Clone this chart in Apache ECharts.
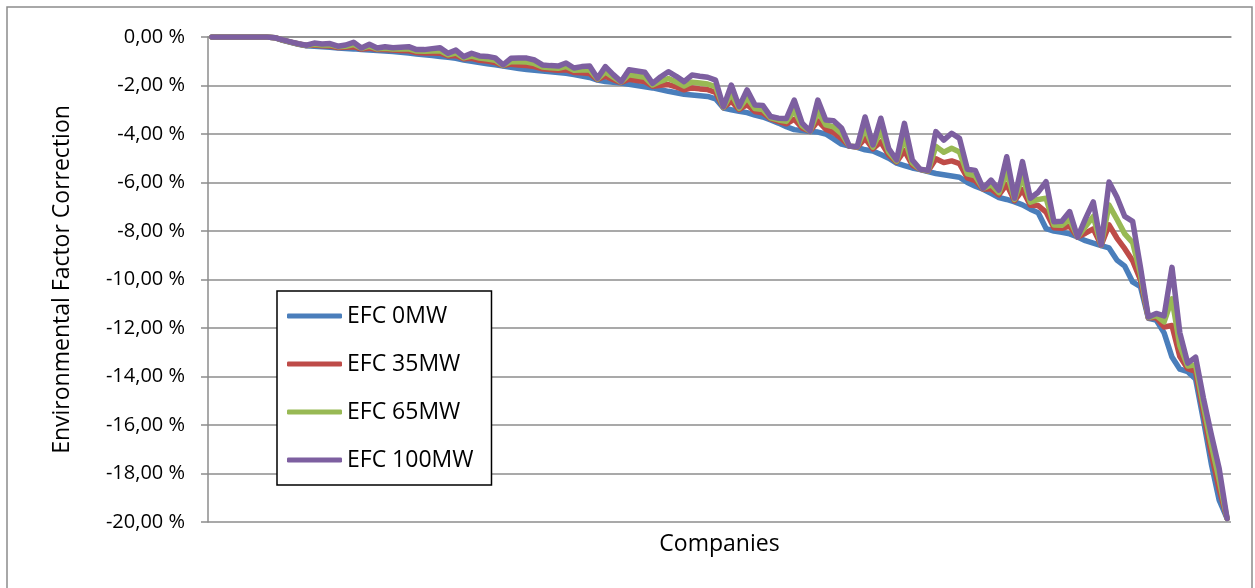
<!DOCTYPE html>
<html>
<head>
<meta charset="utf-8">
<script src="https://cdn.jsdelivr.net/npm/echarts@6/dist/echarts.min.js"></script>
<style>
  html, body { margin: 0; padding: 0; background: #fff; }
  #chart { width: 1255px; height: 588px; }
</style>
</head>
<body>
<div id="chart"></div>
<script>
// Environmental factor correction (%) per company, sorted by the 0 MW case
const seriesNames = ['EFC 0MW', 'EFC 35MW', 'EFC 65MW', 'EFC 100MW'];

const efc0 = [
  0, 0, 0, 0, 0, 0, 0, 0, -0.03, -0.14,
  -0.22, -0.3, -0.36, -0.38, -0.4, -0.42, -0.45, -0.47, -0.49, -0.52,
  -0.54, -0.56, -0.58, -0.6, -0.63, -0.66, -0.7, -0.73, -0.76, -0.8,
  -0.84, -0.88, -0.95, -1.0, -1.05, -1.1, -1.15, -1.2, -1.25, -1.3,
  -1.34, -1.37, -1.4, -1.43, -1.46, -1.5, -1.55, -1.61, -1.67, -1.78,
  -1.84, -1.87, -1.9, -1.95, -2.0, -2.05, -2.1, -2.17, -2.24, -2.3,
  -2.36, -2.39, -2.42, -2.45, -2.55, -2.93, -3.0, -3.06, -3.12, -3.22,
  -3.3, -3.42, -3.55, -3.7, -3.82, -3.86, -3.9, -3.92, -4.0, -4.2,
  -4.42, -4.5, -4.55, -4.65, -4.7, -4.85, -5.0, -5.2, -5.3, -5.4,
  -5.47, -5.55, -5.63, -5.68, -5.73, -5.78, -6.0, -6.15, -6.28, -6.45,
  -6.62, -6.7, -6.8, -6.92, -7.1, -7.25, -7.9, -8.0, -8.05, -8.12,
  -8.25, -8.4, -8.5, -8.6, -8.7, -9.2, -9.45, -10.1, -10.3, -11.6,
  -11.67, -12.2, -13.2, -13.7, -13.8, -14.1, -15.8, -17.6, -19.1, -19.85
];

const efc35 = [
  0, 0, 0, 0, 0, 0, 0, 0, -0.03, -0.13,
  -0.21, -0.29, -0.35, -0.33, -0.36, -0.37, -0.43, -0.42, -0.4, -0.5,
  -0.46, -0.52, -0.52, -0.54, -0.56, -0.57, -0.64, -0.66, -0.66, -0.67,
  -0.78, -0.76, -0.9, -0.88, -0.96, -0.99, -1.05, -1.18, -1.12, -1.15,
  -1.18, -1.22, -1.31, -1.34, -1.37, -1.35, -1.46, -1.47, -1.51, -1.75,
  -1.62, -1.76, -1.88, -1.74, -1.79, -1.84, -2.03, -1.99, -1.96, -2.06,
  -2.18, -2.1, -2.14, -2.17, -2.28, -2.91, -2.64, -2.99, -2.79, -3.07,
  -3.13, -3.37, -3.48, -3.58, -3.39, -3.75, -3.89, -3.46, -3.8, -3.94,
  -4.19, -4.5, -4.54, -4.18, -4.61, -4.33, -4.86, -5.15, -4.69, -5.28,
  -5.46, -5.53, -5.02, -5.18, -5.11, -5.22, -5.81, -5.92, -6.27, -6.26,
  -6.51, -6.08, -6.75, -6.3, -6.94, -6.95, -7.22, -7.87, -7.89, -7.8,
  -8.25, -8.09, -7.91, -8.59, -7.75, -8.29, -8.73, -9.23, -10.02, -11.58,
  -11.58, -11.96, -11.9, -13.18, -13.68, -13.79, -15.49, -17.18, -18.65, -19.85
];

const efc65 = [
  0, 0, 0, 0, 0, 0, 0, 0, -0.03, -0.13,
  -0.21, -0.29, -0.35, -0.3, -0.33, -0.32, -0.4, -0.38, -0.31, -0.47,
  -0.38, -0.49, -0.46, -0.5, -0.49, -0.49, -0.58, -0.59, -0.58, -0.57,
  -0.73, -0.66, -0.86, -0.79, -0.87, -0.91, -0.96, -1.17, -1.01, -1.02,
  -1.03, -1.1, -1.24, -1.27, -1.29, -1.22, -1.37, -1.36, -1.36, -1.73,
  -1.44, -1.66, -1.86, -1.56, -1.61, -1.66, -1.98, -1.83, -1.71, -1.86,
  -2.02, -1.86, -1.9, -1.94, -2.05, -2.9, -2.34, -2.94, -2.51, -2.95,
  -2.99, -3.33, -3.42, -3.48, -3.03, -3.66, -3.89, -3.06, -3.62, -3.71,
  -3.98, -4.5, -4.53, -3.77, -4.54, -3.88, -4.74, -5.12, -4.17, -5.19,
  -5.46, -5.52, -4.51, -4.75, -4.59, -4.74, -5.64, -5.73, -6.25, -6.09,
  -6.42, -5.56, -6.7, -5.76, -6.81, -6.7, -6.65, -7.75, -7.76, -7.52,
  -8.25, -7.82, -7.4, -8.59, -6.93, -7.51, -8.12, -8.48, -9.78, -11.57,
  -11.49, -11.75, -10.8, -12.73, -13.57, -13.52, -15.22, -16.82, -18.26, -19.85
];

const efc100 = [
  0, 0, 0, 0, 0, 0, 0, 0, -0.03, -0.12,
  -0.2, -0.28, -0.34, -0.25, -0.29, -0.27, -0.38, -0.33, -0.22, -0.45,
  -0.3, -0.45, -0.4, -0.44, -0.42, -0.4, -0.52, -0.52, -0.48, -0.44,
  -0.67, -0.54, -0.81, -0.67, -0.78, -0.8, -0.86, -1.15, -0.88, -0.87,
  -0.87, -0.95, -1.15, -1.18, -1.2, -1.07, -1.28, -1.22, -1.2, -1.7,
  -1.22, -1.55, -1.84, -1.35, -1.4, -1.45, -1.91, -1.65, -1.43, -1.62,
  -1.84, -1.57, -1.62, -1.66, -1.78, -2.88, -1.98, -2.87, -2.18, -2.8,
  -2.82, -3.28, -3.35, -3.36, -2.6, -3.55, -3.88, -2.6, -3.42, -3.45,
  -3.75, -4.5, -4.52, -3.3, -4.45, -3.35, -4.6, -5.07, -3.56, -5.07,
  -5.45, -5.5, -3.9, -4.25, -3.97, -4.18, -5.45, -5.5, -6.24, -5.9,
  -6.31, -4.94, -6.65, -5.14, -6.65, -6.4, -5.97, -7.62, -7.6, -7.2,
  -8.25, -7.5, -6.8, -8.58, -5.98, -6.6, -7.4, -7.6, -9.5, -11.55,
  -11.4, -11.5, -9.5, -12.2, -13.45, -13.2, -14.9, -16.4, -17.8, -19.85
];

// one category per company (labels are not shown on the axis)
const companies = efc0.map((_, i) => 'C' + (i + 1));

const yTicks = { min: -20, max: 0, interval: 2 };
const colors = ['#4A7EBB', '#BE4B48', '#98B954', '#7D5FA0'];
const FONT = 'Open Sans';

const chart = echarts.init(document.getElementById('chart'), null, { renderer: 'canvas' });

function fmtPercent(v) {
  return v.toFixed(2).replace('.', ',') + ' %';
}

const seriesData = [efc0, efc35, efc65, efc100];

chart.setOption({
  animation: false,
  backgroundColor: '#fff',
  color: colors,
  textStyle: { fontFamily: FONT, color: '#000' },
  graphic: [{
    type: 'rect',
    z: -10,
    shape: { x: 7, y: 7, width: 1245, height: 600 },
    style: { fill: 'none', stroke: '#8c8c8c', lineWidth: 1.5 }
  }],
  grid: { left: 208, right: 24, top: 37, bottom: 66 },
  legend: {
    orient: 'vertical',
    left: 277,
    top: 291,
    padding: [13, 18, 13, 10],
    icon: 'roundRect',
    itemWidth: 55,
    itemHeight: 5,
    itemGap: 24,
    backgroundColor: '#fff',
    borderColor: '#000',
    borderWidth: 1.5,
    textStyle: { fontFamily: FONT, fontSize: 23, lineHeight: 24, color: '#000' },
    data: seriesNames
  },
  xAxis: {
    type: 'category',
    data: companies,
    boundaryGap: true,
    name: 'Companies',
    nameLocation: 'middle',
    nameGap: 11,
    nameTextStyle: { fontFamily: FONT, fontSize: 23, color: '#000', verticalAlign: 'top' },
    axisLine: { show: true, lineStyle: { color: '#8c8c8c', width: 1.5 } },
    axisTick: { show: false },
    axisLabel: { show: false },
    splitLine: { show: false }
  },
  yAxis: {
    type: 'value',
    min: yTicks.min,
    max: yTicks.max,
    interval: yTicks.interval,
    name: 'Environmental Factor Correction',
    nameLocation: 'middle',
    nameRotate: 90,
    nameGap: 134,
    nameTextStyle: { fontFamily: FONT, fontSize: 23, color: '#000' },
    axisLine: { show: true, lineStyle: { color: '#8c8c8c', width: 1.5 } },
    axisTick: { show: true, length: 7, lineStyle: { color: '#8c8c8c', width: 1.5 } },
    axisLabel: {
      margin: 23,
      fontFamily: FONT,
      fontSize: 20,
      color: '#000',
      formatter: fmtPercent
    },
    splitLine: { show: true, lineStyle: { color: '#8c8c8c', width: 1.5 } }
  },
  series: seriesNames.map((name, k) => ({
    name: name,
    type: 'line',
    data: seriesData[k],
    symbol: 'none',
    smooth: false,
    z: 2 + k,
    lineStyle: { width: 5.5, color: colors[k], cap: 'round', join: 'round' }
  }))
});
</script>
</body>
</html>
